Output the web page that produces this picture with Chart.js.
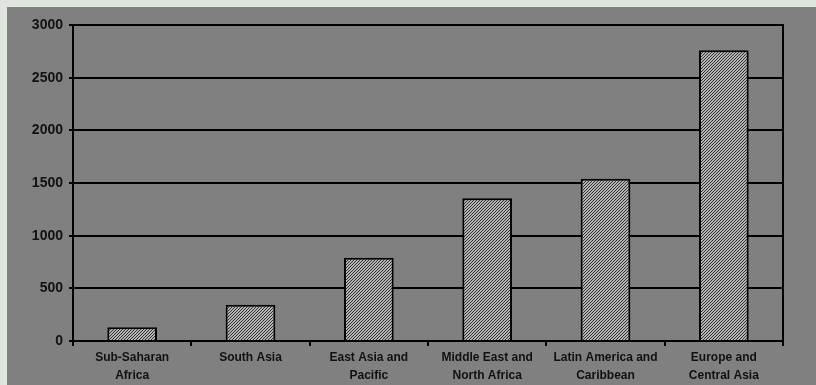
<!DOCTYPE html>
<html lang="en">
<head>
    <meta charset="UTF-8">
    <title>Regions chart</title>
    <script src="https://cdn.jsdelivr.net/npm/chart.js"></script>
    <style>
        html, body { margin: 0; padding: 0; background: #dfe4de; }
        .frame {
            position: absolute; left: 7px; top: 7px;
            width: 809px; height: 378px; background: #808080;
        }
    </style>
</head>
<body>
    <div class="frame">
        <canvas id="regionChart" width="809" height="378"></canvas>
    </div>

    <script>
        // data
        const regions = [
            ['Sub-Saharan', 'Africa'],
            'South Asia',
            ['East Asia and', 'Pacific'],
            ['Middle East and', 'North Africa'],
            ['Latin America and', 'Caribbean'],
            ['Europe and', 'Central Asia']
        ];
        const values = [130, 345, 790, 1355, 1540, 2760];
        const yTicks = [0, 500, 1000, 1500, 2000, 2500, 3000];

        // fine diagonal hatch fill like the old spreadsheet bars
        function hatch() {
            const c = document.createElement('canvas');
            c.width = c.height = 3;
            const g = c.getContext('2d');
            g.fillStyle = '#ececec';
            g.fillRect(0, 0, 3, 3);
            g.strokeStyle = '#2a2a2a';
            g.lineWidth = 1.1;
            g.beginPath();
            g.moveTo(0, 3); g.lineTo(3, 0);
            g.moveTo(-1, 1); g.lineTo(1, -1);
            g.moveTo(2, 4); g.lineTo(4, 2);
            g.stroke();
            return g.createPattern(c, 'repeat');
        }

        // right edge of the plot frame
        const rightEdge = {
            id: 'rightEdge',
            afterDraw(chart) {
                const { ctx, chartArea } = chart;
                ctx.save();
                ctx.strokeStyle = '#000';
                ctx.lineWidth = 2;
                ctx.beginPath();
                ctx.moveTo(chartArea.right, chartArea.top - 1);
                ctx.lineTo(chartArea.right, chartArea.bottom + 3);
                ctx.stroke();
                ctx.restore();
            }
        };

        const ctx = document.getElementById('regionChart').getContext('2d');
        new Chart(ctx, {
            type: 'bar',
            data: {
                labels: regions,
                datasets: [{
                    data: values,
                    backgroundColor: hatch(),
                    borderColor: '#000',
                    borderWidth: 2,
                    borderSkipped: 'bottom',
                    barPercentage: 0.42,
                    categoryPercentage: 1
                }]
            },
            options: {
                responsive: false,
                animation: false,
                layout: { padding: { top: 18, right: 33, left: 0, bottom: 0 } },
                plugins: {
                    legend: { display: false },
                    tooltip: { enabled: false }
                },
                scales: {
                    x: {
                        grid: {
                            offset: true,
                            drawOnChartArea: false,
                            drawTicks: true,
                            tickLength: 5,
                            color: '#000',
                            lineWidth: 2
                        },
                        border: { color: '#000', width: 2 },
                        ticks: {
                            color: '#111',
                            padding: 3,
                            maxRotation: 0,
                            autoSkip: false,
                            font: { family: 'Liberation Sans, Arial', size: 12, weight: 'bold', lineHeight: 1.5 }
                        },
                        afterFit(scale) { scale.height = 44; }
                    },
                    y: {
                        min: 0,
                        max: 3000,
                        afterBuildTicks(scale) { scale.ticks = yTicks.map(v => ({ value: v })); },
                        grid: { color: '#000', lineWidth: 2, tickLength: 4 },
                        border: { color: '#000', width: 2 },
                        ticks: {
                            color: '#111',
                            padding: 6,
                            callback: v => String(v),
                            font: { family: 'Liberation Sans, Arial', size: 14, weight: 'bold' }
                        },
                        afterFit(scale) { scale.width = 66; }
                    }
                }
            },
            plugins: [rightEdge]
        });
    </script>
</body>
</html>
